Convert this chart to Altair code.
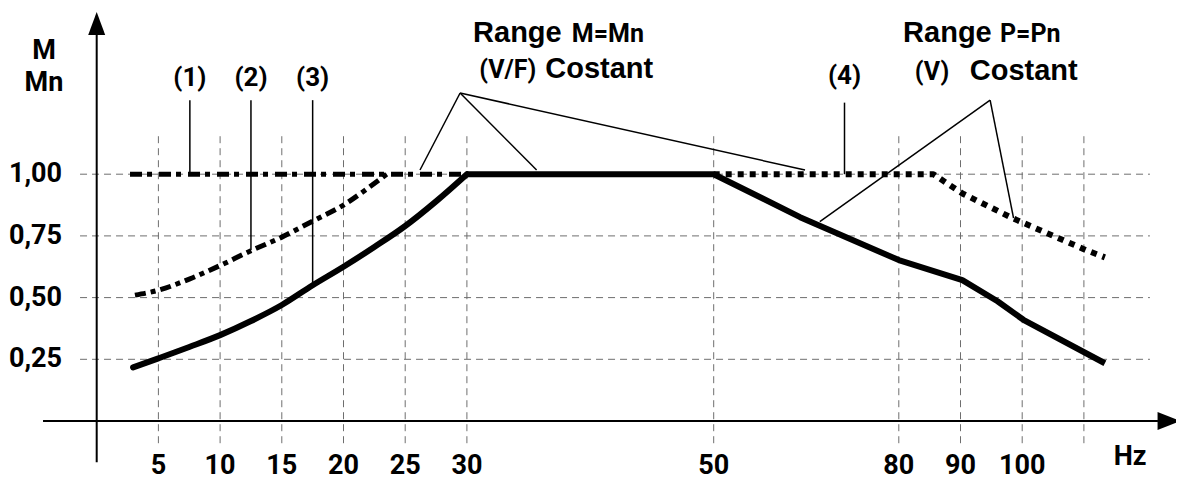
import altair as alt
import pandas as pd

# ---- data (schematic axis: one unit = one 5 Hz step up to 30 Hz, then 50/80/90/100 Hz marks)
tick_pos = [1, 2, 3, 4, 5, 6, 10, 13, 14, 15]
tick_hz = ["5", "10", "15", "20", "25", "30", "50", "80", "90", "100"]
grid_x = [1, 2, 3, 4, 5, 6, 10, 13, 14, 15, 16]
y_vals = [0.25, 0.50, 0.75, 1.00]
y_labels = ["0,25", "0,50", "0,75", "1,00"]

# curve (1): constant torque
c1_u = [0.54, 6.0]
c1_v = [1.0, 1.0]
# curve (2)
c2_u = [0.62, 1.0, 1.5, 2.0, 2.5, 3.0, 3.5, 4.0, 4.35, 4.7]
c2_v = [0.51, 0.53, 0.575, 0.63, 0.69, 0.745, 0.81, 0.875, 0.935, 1.0]
# curve (3): rising part up to 30 Hz
c3a_u = [0.59, 1.0, 1.5, 2.0, 2.5, 3.0, 3.5, 4.0, 4.5, 5.0, 5.5, 6.0]
c3a_v = [0.217, 0.254, 0.30, 0.348, 0.405, 0.47, 0.55, 0.625, 0.705, 0.79, 0.89, 1.0]
# curve (3): M=Mn plateau + P=Pn range
c3b_u = [6.0, 10.0, 11.4, 13.0, 14.03, 14.6, 15.02, 16.34]
c3b_v = [1.0, 1.0, 0.826, 0.652, 0.571, 0.485, 0.41, 0.234]
# curve (4)
c4_u = [10.0, 13.56, 14.03, 14.85, 16.03, 16.34]
c4_v = [1.0, 1.0, 0.922, 0.821, 0.693, 0.663]

# ---- geometry of the frame
W, H = 1168, 472
PXU, PXV = 61.7, 246.8
u0 = -(96.7 - 8) / PXU
u1 = u0 + W / PXU
v1 = (421 - 8) / PXV
v0 = v1 - H / PXV

xs = alt.Scale(domain=[u0, u1], nice=False, zero=False)
ys = alt.Scale(domain=[v0, v1], nice=False, zero=False)

BOLD = "Liberation Sans"
NARROW = "Roboto"


def X(f="u"):
    return alt.X(f"{f}:Q", scale=xs, axis=None)


def Y(f="v"):
    return alt.Y(f"{f}:Q", scale=ys, axis=None)


# gridlines
vgrid = alt.Chart(pd.DataFrame({"u": grid_x, "v": -0.09, "v2": 1.167})).mark_rule(
    color="#6e6e6e", strokeWidth=1, strokeDash=[7, 5]
).encode(x=X(), y=Y(), y2="v2:Q")
hgrid = alt.Chart(pd.DataFrame({"u": -0.27, "u2": 17.07, "v": y_vals})).mark_rule(
    color="#6e6e6e", strokeWidth=1, strokeDash=[7, 5]
).encode(x=X(), x2="u2:Q", y=Y())

# axes
axes_df = pd.DataFrame({"u": [-0.87, 0.0], "u2": [17.2, 0.0], "v": [0.0, -0.167], "v2": [0.0, 1.6]})
axes = alt.Chart(axes_df).mark_rule(color="black", strokeWidth=2).encode(
    x=X(), x2="u2:Q", y=Y(), y2="v2:Q"
)
arrow_up = alt.Chart(pd.DataFrame({"u": [0.0], "v": [1.611]})).mark_point(
    shape="M0,-1L0.74,1L-0.74,1Z", filled=True, color="black", opacity=1, size=529
).encode(x=X(), y=Y())
arrow_right = alt.Chart(pd.DataFrame({"u": [17.38], "v": [0.0]})).mark_point(
    shape="M1,0L-1,0.78L-1,-0.78Z", filled=True, color="black", opacity=1, size=529
).encode(x=X(), y=Y())


def curve(us, vs, **kw):
    return alt.Chart(pd.DataFrame({"u": us, "v": vs, "i": range(len(us))})).mark_line(
        color="black", strokeJoin="round", **kw
    ).encode(x=X(), y=Y(), order="i:Q")


l1 = curve(c1_u, c1_v, strokeWidth=5, strokeCap="butt", strokeDash=[12, 5, 5, 7])
l2 = curve(c2_u, c2_v, strokeWidth=5, strokeCap="butt", strokeDash=[11, 5, 5, 5],
           interpolate="monotone")
l4 = curve(c4_u, c4_v, strokeWidth=6, strokeCap="butt", strokeDash=[6, 6])
l3a = curve(c3a_u, c3a_v, strokeWidth=6, strokeCap="round", interpolate="monotone")
l3b = curve(c3b_u, c3b_v, strokeWidth=6, strokeCap="butt")

# leader lines
lead_df = pd.DataFrame({
    "u": [1.51, 2.5, 3.5, 12.12, 5.89, 5.89, 5.89, 14.48, 14.48],
    "v": [1.0, 0.693, 0.558, 1.0, 1.329, 1.329, 1.329, 1.30, 1.30],
    "u2": [1.51, 2.5, 3.5, 12.12, 5.24, 7.13, 11.48, 11.72, 14.86],
    "v2": [1.30, 1.30, 1.30, 1.29, 1.017, 1.017, 1.017, 0.808, 0.822],
})
leads = alt.Chart(lead_df).mark_rule(color="black", strokeWidth=1.5).encode(
    x=X(), x2="u2:Q", y=Y(), y2="v2:Q"
)


def texts(df, font, size, align="center", baseline="middle", weight="bold"):
    return alt.Chart(df).mark_text(
        font=font, fontSize=size, fontWeight=weight, align=align, baseline=baseline, color="black"
    ).encode(x=X(), y=Y(), text="t:N")


xlab = texts(pd.DataFrame({"u": tick_pos, "v": -0.183, "t": tick_hz}), NARROW, 27)
ylab = texts(pd.DataFrame({"u": -0.562, "v": y_vals, "t": y_labels}), NARROW, 27, align="right")
hz = texts(pd.DataFrame({"u": [16.75], "v": [-0.146], "t": ["Hz"]}), NARROW, 27)
mm = texts(pd.DataFrame({"u": [-0.854, -0.854], "v": [1.499, 1.37], "t": ["M", "Mn"]}), NARROW, 27)
nums = texts(pd.DataFrame({"u": [1.51, 2.5, 3.5, 12.12], "v": [1.39, 1.39, 1.39, 1.398],
                           "t": ["(1)", "(2)", "(3)", "(4)"]}), NARROW, 26)
range_w = texts(pd.DataFrame({"u": [6.10, 13.07, 7.27, 14.15], "v": [1.537, 1.536, 1.389, 1.382],
                              "t": ["Range", "Range", "Costant", "Costant"]}), BOLD, 29,
                align="left", baseline="alphabetic")
range_n = texts(pd.DataFrame({"u": [7.70, 14.64, 6.20, 13.26], "v": [1.537, 1.536, 1.389, 1.382],
                              "t": ["M=Mn", "P=Pn", "(V/F)", "(V)"]}), NARROW, 25,
                align="left", baseline="alphabetic")

chart = alt.layer(
    vgrid, hgrid, axes, arrow_up, arrow_right, l1, l2, l4, l3a, l3b, leads,
    xlab, ylab, hz, mm, nums, range_w, range_n
).properties(
    width=W, height=H, autosize=alt.AutoSizeParams(type="none"), padding=0, background="white"
).configure_view(strokeWidth=0)

chart.save("out.html", embed_options={"renderer": "svg", "actions": False})
